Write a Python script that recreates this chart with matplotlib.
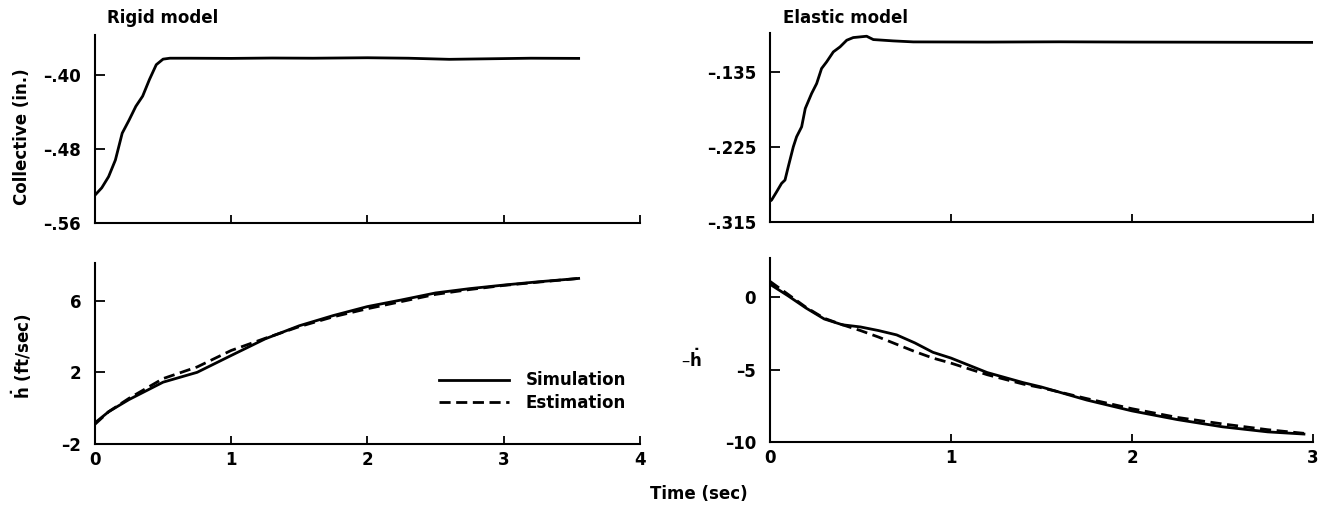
import matplotlib
matplotlib.use("Agg")
import matplotlib.pyplot as plt

plt.rcParams['font.family'] = ['DejaVu Sans']
plt.rcParams['font.weight'] = 'bold'
plt.rcParams['font.size'] = 12

# rigid model, collective
t_rc = [0, 0.05, 0.1, 0.15, 0.2, 0.25, 0.3, 0.35, 0.4, 0.45, 0.5, 0.55, 0.7,
        1.0, 1.3, 1.6, 2.0, 2.3, 2.6, 2.9, 3.2, 3.55]
c_rc = [-0.530, -0.522, -0.510, -0.492, -0.463, -0.449, -0.434, -0.423, -0.405,
        -0.389, -0.383, -0.382, -0.382, -0.3822, -0.3818, -0.382, -0.3815,
        -0.382, -0.3832, -0.3826, -0.382, -0.3822]

# rigid model, hdot
t_rh = [0, 0.1, 0.25, 0.5, 0.75, 1.0, 1.25, 1.5, 1.75, 2.0, 2.25, 2.5, 2.75,
        3.0, 3.25, 3.55]
sim_rh = [-0.82, -0.2, 0.48, 1.45, 2.0, 2.94, 3.87, 4.6, 5.17, 5.67, 6.04,
          6.43, 6.67, 6.87, 7.05, 7.24]
est_rh = [-0.9, -0.2, 0.55, 1.65, 2.3, 3.22, 3.9, 4.55, 5.1, 5.55, 5.95,
          6.35, 6.62, 6.85, 7.03, 7.24]

# elastic model, collective
t_ec = [0, 0.009, 0.037, 0.064, 0.083, 0.101, 0.129, 0.147, 0.175, 0.195,
        0.23, 0.258, 0.285, 0.313, 0.35, 0.387, 0.424, 0.46, 0.534, 0.571,
        0.681, 0.792, 1.2, 1.6, 2.0, 2.5, 3.0]
c_ec = [-0.290, -0.2886, -0.2786, -0.2686, -0.2646, -0.2486, -0.2246, -0.2126,
        -0.2006, -0.1786, -0.1606, -0.1486, -0.1306, -0.1226, -0.1106, -0.1046,
        -0.0966, -0.0934, -0.0918, -0.0958, -0.0974, -0.0986, -0.0988, -0.0985,
        -0.0988, -0.0990, -0.0992]

# elastic model, -hdot
t_eh = [0, 0.1, 0.2, 0.3, 0.4, 0.5, 0.6, 0.7, 0.8, 0.9, 1.0, 1.2, 1.4, 1.5,
        1.75, 2.0, 2.25, 2.5, 2.75, 2.95]
sim_eh = [0.9, 0.1, -0.75, -1.5, -1.9, -2.05, -2.3, -2.6, -3.15, -3.8, -4.2,
          -5.2, -5.9, -6.2, -7.1, -7.85, -8.45, -8.95, -9.3, -9.45]
est_eh = [1.1, 0.2, -0.7, -1.45, -1.9, -2.3, -2.75, -3.25, -3.75, -4.2, -4.55,
          -5.35, -6.0, -6.25, -7.0, -7.7, -8.3, -8.75, -9.15, -9.4]

fig = plt.figure(figsize=(13.28, 5.12), dpi=100)
ax_rc = fig.add_axes([0.0715, 0.5645, 0.4104, 0.367])
ax_rh = fig.add_axes([0.0715, 0.1328, 0.4104, 0.3535])
ax_ec = fig.add_axes([0.5798, 0.5664, 0.4089, 0.369])
ax_eh = fig.add_axes([0.5798, 0.1367, 0.4089, 0.359])

lw = 2.0
dash = (0, (4, 2))

ax_rc.plot(t_rc, c_rc, 'k-', lw=lw)
ax_rh.plot(t_rh, sim_rh, 'k-', lw=lw, label='Simulation')
ax_rh.plot(t_rh, est_rh, 'k', ls=dash, lw=lw, label='Estimation')
ax_ec.plot(t_ec, c_ec, 'k-', lw=lw)
ax_eh.plot(t_eh, sim_eh, 'k-', lw=lw)
ax_eh.plot(t_eh, est_eh, 'k', ls=dash, lw=lw)

for ax in [ax_rc, ax_rh, ax_ec, ax_eh]:
    ax.spines['top'].set_visible(False)
    ax.spines['right'].set_visible(False)
    ax.spines['left'].set_linewidth(1.5)
    ax.spines['bottom'].set_linewidth(1.5)
    ax.tick_params(axis='y', direction='in', length=7, width=1.3, pad=10, labelsize=12)
    ax.tick_params(axis='x', direction='in', length=6, width=1.3, pad=5, labelsize=12)

ax_rc.set_xlim(0, 4)
ax_rh.set_xlim(0, 4)
ax_ec.set_xlim(0, 3)
ax_eh.set_xlim(0, 3)

ax_rc.set_ylim(-0.56, -0.357)
ax_rc.set_yticks([-0.56, -0.48, -0.40])
ax_rc.set_yticklabels(['–.56', '–.48', '–.40'])
ax_rc.set_xticks([0, 1, 2, 3, 4])
ax_rc.set_xticklabels([])

ax_rh.set_ylim(-2, 8.1)
ax_rh.set_yticks([-2, 2, 6])
ax_rh.set_yticklabels(['–2', '2', '6'])
ax_rh.set_xticks([0, 1, 2, 3, 4])

ax_ec.set_ylim(-0.315, -0.088)
ax_ec.set_yticks([-0.315, -0.225, -0.135])
ax_ec.set_yticklabels(['–.315', '–.225', '–.135'])
ax_ec.set_xticks([0, 1, 2, 3])
ax_ec.set_xticklabels([])

ax_eh.set_ylim(-10, 2.7)
ax_eh.set_yticks([-10, -5, 0])
ax_eh.set_yticklabels(['–10', '–5', '0'])
ax_eh.set_xticks([0, 1, 2, 3])

ax_rh.legend(loc='center right', bbox_to_anchor=(0.99, 0.29), frameon=False,
             handlelength=4.2, handletextpad=1.0, labelspacing=0.25, fontsize=12,
             borderpad=0)

fig.text(0.0805, 0.965, 'Rigid model', ha='left', va='center', fontsize=12)
fig.text(0.5896, 0.965, 'Elastic model', ha='left', va='center', fontsize=12)
fig.text(0.0166, 0.734, 'Collective (in.)', rotation=90, ha='center', va='center', fontsize=12)
fig.text(0.0166, 0.305, r'$\dot{\mathbf{h}}$ (ft/sec)', rotation=90, ha='center', va='center', fontsize=12)
fig.text(0.521, 0.297, r'–$\dot{\mathbf{h}}$', ha='center', va='center', fontsize=12)
fig.text(0.526, 0.035, 'Time (sec)', ha='center', va='center', fontsize=12)

fig.savefig('out.png', dpi=100)
